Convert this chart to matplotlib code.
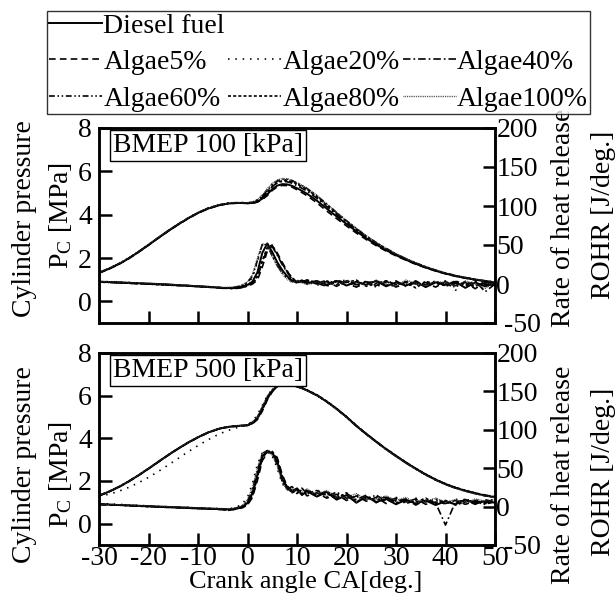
import matplotlib.pyplot as plt
from matplotlib.lines import Line2D

plt.rcParams["font.family"] = ["Liberation Serif", "DejaVu Serif"]
plt.rcParams["mathtext.fontset"] = "custom"
plt.rcParams["mathtext.rm"] = "Liberation Serif"
plt.rcParams["mathtext.it"] = "Liberation Serif:italic"
plt.rcParams["axes.unicode_minus"] = False

FS = 20
W, H = 616, 596

# crank angle grid [deg.]
CA = [-30, -28, -26, -24, -22, -20, -18, -16, -14, -12, -10, -8, -6,
      -5, -4, -3, -2, -1, 0, 1, 2, 3, 4, 5, 6, 7, 8, 9, 10, 11, 12,
      14, 16, 18, 20, 22, 24, 26, 28, 30, 32, 34, 36, 38, 40, 42, 44, 46, 48, 50]

FUELS = ["Diesel fuel", "Algae5%", "Algae20%", "Algae40%", "Algae60%", "Algae80%", "Algae100%"]

# ---- BMEP 100 kPa : cylinder pressure [MPa]
p100_diesel = [1.32, 1.50, 1.72, 1.98, 2.28, 2.60, 2.93, 3.25, 3.55, 3.83, 4.08, 4.28, 4.42,
               4.47, 4.51, 4.53, 4.54, 4.54, 4.53, 4.54, 4.60, 4.74, 4.94, 5.18, 5.34, 5.41, 5.40, 5.33, 5.22, 5.10, 4.97,
               4.65, 4.28, 3.92, 3.57, 3.23, 2.91, 2.62, 2.36, 2.13, 1.92, 1.73, 1.56, 1.41, 1.28, 1.17, 1.08, 1.00, 0.93, 0.87]
p100_a5 = [1.30, 1.49, 1.71, 1.97, 2.27, 2.59, 2.92, 3.24, 3.54, 3.82, 4.07, 4.27, 4.41,
           4.46, 4.50, 4.52, 4.53, 4.53, 4.52, 4.52, 4.58, 4.70, 4.88, 5.12, 5.28, 5.35, 5.34, 5.27, 5.15, 5.02, 4.88,
           4.55, 4.17, 3.82, 3.48, 3.15, 2.85, 2.57, 2.32, 2.10, 1.90, 1.71, 1.55, 1.40, 1.27, 1.16, 1.07, 0.99, 0.92, 0.86]
p100_a20 = [1.34, 1.52, 1.74, 2.00, 2.30, 2.62, 2.95, 3.27, 3.57, 3.85, 4.10, 4.30, 4.44,
            4.49, 4.53, 4.55, 4.56, 4.56, 4.55, 4.58, 4.68, 4.88, 5.15, 5.40, 5.56, 5.62, 5.60, 5.53, 5.42, 5.30, 5.17,
            4.84, 4.45, 4.07, 3.70, 3.34, 3.00, 2.70, 2.43, 2.18, 1.96, 1.76, 1.59, 1.43, 1.30, 1.18, 1.09, 1.01, 0.94, 0.88]
p100_a40 = [1.31, 1.51, 1.73, 1.99, 2.29, 2.61, 2.94, 3.26, 3.56, 3.84, 4.09, 4.29, 4.43,
            4.48, 4.52, 4.54, 4.55, 4.54, 4.53, 4.55, 4.63, 4.80, 5.05, 5.30, 5.47, 5.53, 5.52, 5.45, 5.34, 5.22, 5.09,
            4.76, 4.38, 4.01, 3.65, 3.30, 2.97, 2.67, 2.40, 2.16, 1.94, 1.75, 1.58, 1.42, 1.29, 1.18, 1.08, 1.00, 0.93, 0.87]
p100_a60 = [1.33, 1.51, 1.73, 1.99, 2.29, 2.61, 2.94, 3.26, 3.56, 3.84, 4.09, 4.29, 4.43,
            4.48, 4.52, 4.54, 4.55, 4.55, 4.54, 4.57, 4.67, 4.86, 5.12, 5.38, 5.55, 5.63, 5.63, 5.57, 5.46, 5.34, 5.21,
            4.88, 4.49, 4.10, 3.72, 3.36, 3.02, 2.71, 2.44, 2.19, 1.97, 1.77, 1.60, 1.44, 1.31, 1.19, 1.10, 1.02, 0.95, 0.89]
p100_a80 = [1.32, 1.50, 1.72, 1.98, 2.28, 2.60, 2.93, 3.25, 3.55, 3.83, 4.08, 4.28, 4.42,
            4.47, 4.51, 4.53, 4.54, 4.54, 4.53, 4.54, 4.61, 4.78, 5.03, 5.29, 5.48, 5.57, 5.58, 5.52, 5.42, 5.30, 5.17,
            4.83, 4.44, 4.06, 3.69, 3.33, 2.99, 2.69, 2.42, 2.17, 1.95, 1.75, 1.58, 1.43, 1.29, 1.18, 1.09, 1.01, 0.94, 0.88]
p100_a100 = [1.33, 1.52, 1.74, 2.00, 2.30, 2.62, 2.95, 3.27, 3.57, 3.85, 4.10, 4.30, 4.44,
             4.49, 4.53, 4.55, 4.56, 4.56, 4.55, 4.58, 4.70, 4.92, 5.20, 5.45, 5.60, 5.67, 5.66, 5.59, 5.48, 5.36, 5.23,
             4.90, 4.50, 4.11, 3.73, 3.37, 3.03, 2.72, 2.45, 2.20, 1.98, 1.78, 1.60, 1.45, 1.31, 1.20, 1.10, 1.02, 0.95, 0.89]

# ---- BMEP 100 kPa : rate of heat release [J/deg.]
r100_diesel = [3, 2.5, 2, 1.5, 1, 0.5, 0, -0.5, -1.5, -2, -3, -3.5, -4.5,
               -5, -5, -5, -4.5, -3, -1, 3, 15, 40, 52, 41, 28, 18, 10, 4, 2, 4, 1,
               4, -1, 4, -2, 3, -1, 4, -3, 2, -2, 3, -4, 2, -1, 3, -5, 2, -3, 1]
r100_a5 = [2.5, 2, 1.5, 1, 0.5, 0, -0.5, -1, -1.5, -2.5, -3, -4, -4.5,
           -5, -5.5, -5.5, -5, -4, -3, 0, 5, 22, 42, 49, 40, 28, 17, 7, 3, 1, 4,
           0, 3, -3, 4, -1, 3, -2, 4, -4, 3, 0, 2, -4, 3, -2, 2, -6, 2, -1]
r100_a20 = [3.5, 3, 2.5, 2, 1, 0.5, 0, -1, -1.5, -2.5, -3, -4, -5,
            -5, -5.5, -5, -4, -2, 1, 8, 28, 50, 53, 38, 24, 14, 7, 3, 5, 1, 3,
            -2, 5, 0, 3, -3, 4, -1, 2, -5, 4, -2, 3, -1, 4, -8, 1, 3, -4, 2]
r100_a40 = [3, 2.5, 1.5, 1, 0.5, 0, -0.5, -1, -2, -2.5, -3.5, -4, -5,
            -5.5, -5.5, -6, -5.5, -4.5, -2.5, 1, 8, 28, 45, 48, 37, 25, 15, 6, 2, 5, 0,
            3, -2, 5, 1, -4, 2, 3, -2, 4, -3, 2, -1, 4, -3, 1, -2, 4, -10, 0]
r100_a60 = [2.5, 2, 2, 1.5, 1, 0, -0.5, -1, -1.5, -2, -3, -3.5, -4.5,
            -5, -5, -4.5, -3.5, -1.5, 2, 10, 30, 51, 50, 36, 24, 15, 8, 5, 1, 3, 5,
            1, -3, 3, 5, -1, 2, -4, 3, 1, -1, 4, -3, 3, 0, -4, 3, -2, 1, -2]
r100_a80 = [3, 2.5, 2, 1, 0.5, 0, -1, -1.5, -2, -2.5, -3, -4, -4.5,
            -5, -5, -5.5, -5, -4, -2, 2, 10, 30, 47, 50, 38, 26, 16, 8, 3, 2, 5,
            2, 4, -1, 2, 5, -3, 1, 4, -1, 2, -5, 3, 1, -2, 4, -1, -3, 3, 1]
r100_a100 = [3, 3, 2.5, 2, 1.5, 1, 0, -0.5, -1, -2, -2.5, -3.5, -4,
             -4.5, -4.5, -4, -3, -1, 3, 12, 33, 52, 49, 35, 23, 13, 6, 2, 4, 2, -1,
             3, 1, -2, 4, 2, -2, 5, 0, -3, 5, 1, -2, 3, 2, -3, 4, 0, -6, 3]

# ---- BMEP 500 kPa : cylinder pressure [MPa]
p500_diesel = [1.31, 1.50, 1.72, 1.98, 2.27, 2.58, 2.90, 3.22, 3.52, 3.80, 4.05, 4.27, 4.43,
               4.49, 4.53, 4.56, 4.58, 4.60, 4.62, 4.72, 4.95, 5.40, 5.90, 6.24, 6.44, 6.54, 6.55, 6.50, 6.43, 6.35, 6.25,
               6.02, 5.72, 5.38, 5.00, 4.58, 4.20, 3.84, 3.49, 3.17, 2.86, 2.57, 2.30, 2.06, 1.85, 1.68, 1.54, 1.42, 1.32, 1.24]
p500_a5 = [1.30, 1.49, 1.71, 1.97, 2.26, 2.57, 2.89, 3.21, 3.51, 3.79, 4.04, 4.26, 4.42,
           4.48, 4.52, 4.55, 4.57, 4.59, 4.60, 4.68, 4.88, 5.28, 5.80, 6.18, 6.42, 6.53, 6.55, 6.51, 6.44, 6.36, 6.26,
           6.03, 5.73, 5.39, 5.01, 4.59, 4.21, 3.85, 3.50, 3.18, 2.87, 2.58, 2.31, 2.07, 1.86, 1.69, 1.55, 1.43, 1.33, 1.25]
p500_a20 = [1.28, 1.38, 1.52, 1.70, 1.92, 2.17, 2.45, 2.75, 3.06, 3.37, 3.66, 3.93, 4.17,
            4.27, 4.36, 4.44, 4.51, 4.57, 4.64, 4.80, 5.10, 5.55, 6.00, 6.30, 6.47, 6.55, 6.55, 6.50, 6.42, 6.34, 6.24,
            6.01, 5.71, 5.37, 4.99, 4.57, 4.19, 3.83, 3.48, 3.16, 2.85, 2.56, 2.29, 2.05, 1.84, 1.67, 1.53, 1.41, 1.31, 1.23]
p500_a40 = [1.31, 1.50, 1.72, 1.98, 2.27, 2.58, 2.90, 3.22, 3.52, 3.80, 4.05, 4.27, 4.43,
            4.49, 4.53, 4.56, 4.58, 4.60, 4.62, 4.71, 4.93, 5.36, 5.86, 6.22, 6.43, 6.54, 6.56, 6.51, 6.44, 6.36, 6.26,
            6.03, 5.73, 5.39, 5.01, 4.59, 4.21, 3.85, 3.50, 3.18, 2.87, 2.58, 2.31, 2.07, 1.86, 1.69, 1.55, 1.43, 1.33, 1.25]
p500_a60 = [1.32, 1.51, 1.73, 1.99, 2.28, 2.59, 2.91, 3.23, 3.53, 3.81, 4.06, 4.28, 4.44,
            4.50, 4.54, 4.57, 4.59, 4.61, 4.63, 4.75, 5.00, 5.45, 5.95, 6.27, 6.46, 6.55, 6.55, 6.50, 6.42, 6.34, 6.24,
            6.01, 5.71, 5.37, 4.99, 4.57, 4.19, 3.83, 3.48, 3.16, 2.85, 2.56, 2.29, 2.05, 1.84, 1.67, 1.53, 1.41, 1.31, 1.23]
p500_a80 = [1.31, 1.50, 1.72, 1.98, 2.27, 2.58, 2.90, 3.22, 3.52, 3.80, 4.05, 4.27, 4.43,
            4.49, 4.53, 4.56, 4.58, 4.59, 4.61, 4.70, 4.92, 5.34, 5.85, 6.21, 6.43, 6.54, 6.56, 6.52, 6.45, 6.37, 6.27,
            6.04, 5.74, 5.40, 5.02, 4.60, 4.22, 3.86, 3.51, 3.19, 2.88, 2.59, 2.32, 2.08, 1.87, 1.70, 1.56, 1.44, 1.34, 1.26]
p500_a100 = [1.32, 1.51, 1.73, 1.99, 2.28, 2.59, 2.91, 3.23, 3.53, 3.81, 4.06, 4.28, 4.44,
             4.50, 4.54, 4.57, 4.59, 4.61, 4.63, 4.76, 5.03, 5.50, 5.98, 6.29, 6.47, 6.56, 6.55, 6.50, 6.42, 6.33, 6.23,
             6.00, 5.70, 5.36, 4.98, 4.56, 4.18, 3.82, 3.47, 3.15, 2.84, 2.55, 2.28, 2.04, 1.83, 1.66, 1.52, 1.40, 1.30, 1.22]

# ---- BMEP 500 kPa : rate of heat release [J/deg.]
r500_diesel = [3, 2.5, 2, 1.5, 1, 0.5, 0, -0.5, -1, -1.5, -2, -2.5, -3,
               -3, -3.5, -3.5, -2, 0, 5, 18, 42, 66, 71, 70, 58, 36, 24, 19, 23, 15, 20,
               13, 19, 9, 15, 5, 13, 6, 10, 3, 9, 4, 8, 2, 7, 3, 9, 4, 7, 5]
r500_a5 = [2.5, 2, 2, 1.5, 1, 0, -0.5, -1, -1.5, -2, -2.5, -3, -3.5,
           -4, -4, -4, -3, -1.5, 2, 12, 34, 60, 70, 71, 64, 42, 27, 21, 17, 22, 14,
           18, 11, 16, 8, 14, 7, 12, 4, 9, 6, 10, 3, 6, 4, 8, 3, 7, 5, 8]
r500_a20 = [4, 3.5, 3, 2, 1.5, 1, 0, 0, -1, -1, -2, -2, -2.5,
            -3, -3, -2, 0, 4, 12, 30, 55, 70, 72, 66, 50, 30, 22, 25, 18, 21, 16,
            22, 14, 18, 10, 16, 8, 14, 6, 12, 5, 11, 6, 9, 3, 10, 5, 9, 6, 10]
r500_a40 = [3, 2.5, 2, 1, 1, 0.5, -0.5, -1, -1, -2, -2.5, -3, -3.5,
            -3.5, -4, -3.5, -2.5, -0.5, 4, 16, 40, 65, 72, 70, 60, 38, 25, 20, 24, 17, 21,
            15, 20, 12, 17, 9, 15, 5, 12, 7, 10, 2, 9, 5, -24, 6, 8, 3, 9, 6]
r500_a60 = [3.5, 3, 2, 1.5, 1, 0.5, 0, -0.5, -1, -1.5, -2, -2.5, -3,
            -3.5, -3.5, -3, -1.5, 1, 7, 22, 47, 69, 73, 68, 55, 33, 23, 26, 19, 24, 17,
            21, 13, 19, 11, 13, 10, 15, 7, 11, 4, 8, 6, 10, 5, 4, 10, 6, 3, 7]
r500_a80 = [3, 2.5, 2, 1.5, 0.5, 0, -0.5, -1, -1.5, -2, -2.5, -3, -3.5,
            -4, -5, -4, -2.5, -0.5, 3, 14, 38, 63, 72, 72, 62, 40, 26, 18, 21, 16, 22,
            14, 17, 10, 18, 7, 11, 8, 13, 5, 8, 6, 11, 4, 8, 2, 6, 8, 4, 6]
r500_a100 = [3, 3, 2.5, 2, 1.5, 1, 0.5, 0, -0.5, -1, -1.5, -2, -2.5,
             -3, -3, -2.5, -1, 2, 9, 25, 50, 70, 72, 67, 53, 32, 21, 23, 20, 18, 23,
             16, 21, 13, 12, 17, 9, 10, 14, 8, 12, 5, 7, 11, 6, 9, 4, 10, 7, 9]

STYLES = {
    "Diesel fuel": dict(color="black", lw=1.4, ls="-"),
    "Algae5%": dict(color="black", lw=1.2, ls=(0, (4, 2.5))),
    "Algae20%": dict(color="black", lw=1.2, ls=(0, (0.9, 3.5))),
    "Algae40%": dict(color="black", lw=1.2, ls=(0, (4.5, 1.8, 1, 1.8))),
    "Algae60%": dict(color="black", lw=1.2, ls=(0, (3.5, 1.6, 0.9, 1.6, 0.9, 1.6))),
    "Algae80%": dict(color="black", lw=1.2, ls=(0, (1.8, 1.3))),
    "Algae100%": dict(color="#333333", lw=1.0, ls=(0, (0.6, 0.7))),
}

SPINE_W = 1.8


def px_box(x0, y0, x1, y1):
    return [x0 / W, 1 - y1 / H, (x1 - x0) / W, (y1 - y0) / H]


def style_axes(ax, ax2, show_xlabels):
    ax.set_xlim(-30, 50)
    ax.set_ylim(-1, 8)
    ax.set_xticks(range(-30, 51, 10))
    ax.set_yticks([0, 2, 4, 6, 8])
    ax2.set_ylim(-50, 200)
    ax2.set_yticks([-50, 0, 50, 100, 150, 200])
    for a in (ax, ax2):
        for sp in a.spines.values():
            sp.set_linewidth(SPINE_W)
    ax.tick_params(axis="both", direction="in", length=9, width=SPINE_W,
                   labelsize=FS, top=False, right=False)
    ax.tick_params(axis="y", pad=5)
    ax.tick_params(axis="x", pad=1, labelbottom=show_xlabels)
    ax2.tick_params(axis="y", direction="in", length=9, width=SPINE_W,
                    labelsize=FS, pad=1)
    # the -50 label sits a little to the right, beside the last CA label
    ax2.yaxis.get_major_ticks()[0].label2.set_x(1.02)


def draw_panel(box, pressures, rohrs, title, show_xlabels):
    ax = fig.add_axes(box)
    ax2 = ax.twinx()
    for fuel, p in zip(FUELS, pressures):
        ax.plot(CA, p, **STYLES[fuel])
    for fuel, r in zip(FUELS, rohrs):
        ax2.plot(CA, r, **STYLES[fuel])
    style_axes(ax, ax2, show_xlabels)
    ax2.text(0.035, 0.975, title, transform=ax.transAxes, fontsize=FS,
             ha="left", va="top",
             bbox=dict(boxstyle="square,pad=0.1", fc="white", ec="black", lw=1.0))
    return ax


fig = plt.figure(figsize=(W / 100, H / 100), dpi=100)

draw_panel(px_box(99, 128, 495, 323),
           [p100_diesel, p100_a5, p100_a20, p100_a40, p100_a60, p100_a80, p100_a100],
           [r100_diesel, r100_a5, r100_a20, r100_a40, r100_a60, r100_a80, r100_a100],
           "BMEP 100 [kPa]", False)
draw_panel(px_box(99, 353, 495, 545),
           [p500_diesel, p500_a5, p500_a20, p500_a40, p500_a60, p500_a80, p500_a100],
           [r500_diesel, r500_a5, r500_a20, r500_a40, r500_a60, r500_a80, r500_a100],
           "BMEP 500 [kPa]", True)


def ftext(x, y, s, size=FS, **kw):
    fig.text(x / W, 1 - y / H, s, fontsize=size, ha="center", va="center", **kw)


for yc_a, yc_b, yc_c, yc_d in [(219, 216, 218, 215), (465, 475, 475, 472)]:
    ftext(25, yc_a, "Cylinder pressure", rotation=90)
    ftext(61, yc_b, r"P$_{\mathrm{C}}$ [MPa]", rotation=90)
    ftext(563, yc_c, "Rate of heat release", rotation=90)
    ftext(603, yc_d, "ROHR [J/deg.]", rotation=90)
ftext(306, 582, "Crank angle CA[deg.]", size=FS - 1)

# legend: first row holds Diesel only, so pad columns with blank entries
blank = Line2D([], [], color="none")
h = {f: Line2D([], [], **STYLES[f]) for f in FUELS}
handles = [h["Diesel fuel"], h["Algae5%"], h["Algae60%"],
           blank, h["Algae20%"], h["Algae80%"],
           blank, h["Algae40%"], h["Algae100%"]]
labels = ["Diesel fuel", "Algae5%", "Algae60%",
          "", "Algae20%", "Algae80%",
          "", "Algae40%", "Algae100%"]
leg = fig.legend(handles, labels, loc="upper left", bbox_to_anchor=(47 / W, 1 - 11 / H),
                 ncol=3, fontsize=FS, frameon=True, fancybox=False, edgecolor="black",
                 handlelength=1.9, handletextpad=0.05, columnspacing=0.12,
                 borderpad=0.08, labelspacing=0.4, borderaxespad=0)
leg.get_frame().set_linewidth(1.0)

fig.savefig("out.png", dpi=100)
